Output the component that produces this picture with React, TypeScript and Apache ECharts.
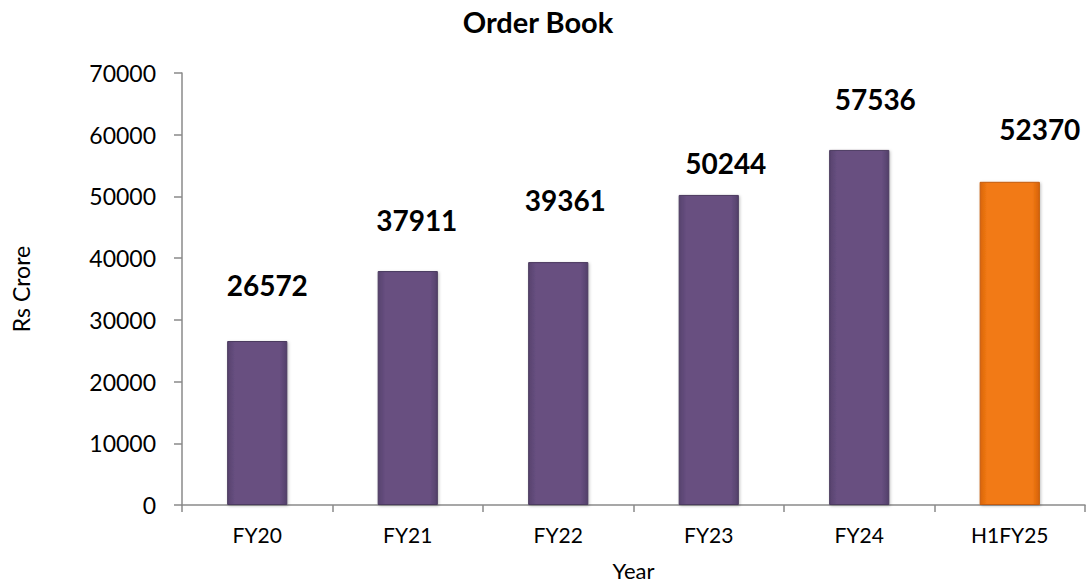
import React, { useEffect, useRef } from "react";
import * as echarts from "echarts";

const categories = ["FY20", "FY21", "FY22", "FY23", "FY24", "H1FY25"];
const orderBook = [26572, 37911, 39361, 50244, 57536, 52370];
const yTicks = [0, 10000, 20000, 30000, 40000, 50000, 60000, 70000];

const labelShift: [number, number][] = [
  [10, 56],
  [9, 51],
  [7, 62],
  [17, 32],
  [16, 51],
  [30, 53],
];

const purple = {
  type: "linear",
  x: 0, y: 0, x2: 1, y2: 0,
  colorStops: [
    { offset: 0, color: "#57426e" },
    { offset: 0.12, color: "#674f80" },
    { offset: 0.88, color: "#674f80" },
    { offset: 1, color: "#53406a" },
  ],
};
const orange = {
  type: "linear",
  x: 0, y: 0, x2: 1, y2: 0,
  colorStops: [
    { offset: 0, color: "#d9650a" },
    { offset: 0.12, color: "#f27a14" },
    { offset: 0.88, color: "#f27a14" },
    { offset: 1, color: "#d6620a" },
  ],
};

export default function App() {
  const ref = useRef<HTMLDivElement>(null);
  useEffect(() => {
    if (!ref.current) return;
    const chart = echarts.init(ref.current, undefined, { renderer: "svg" });
    const font = "Lato, 'Open Sans', sans-serif";
    chart.setOption({
      animation: false,
      backgroundColor: "#ffffff",
      title: {
        text: "Order Book",
        left: 533,
        top: 2,
        textAlign: "center",
        textStyle: { fontFamily: font, fontWeight: "bold", fontSize: 29, color: "#000" },
      },
      grid: { left: 182, top: 73, width: 903, height: 434, containLabel: false },
      xAxis: {
        type: "category",
        data: categories,
        name: "Year",
        nameLocation: "middle",
        nameGap: 54,
        nameTextStyle: { fontFamily: font, fontSize: 22, color: "#000" },
        axisLine: { lineStyle: { color: "#8a8a8a", width: 1.5 } },
        axisTick: { show: true, length: 7, alignWithLabel: false, lineStyle: { color: "#8a8a8a", width: 1.5 } },
        axisLabel: { fontFamily: font, fontSize: 21, color: "#000", margin: 19 },
      },
      yAxis: {
        type: "value",
        min: 0,
        max: 70000,
        interval: 10000,
        name: "Rs Crore",
        nameLocation: "middle",
        nameGap: 150,
        nameRotate: 90,
        nameTextStyle: { fontFamily: font, fontSize: 23, color: "#000" },
        axisLine: { show: true, lineStyle: { color: "#8a8a8a", width: 1.5 } },
        axisTick: { show: true, length: 8, lineStyle: { color: "#8a8a8a", width: 1.5 } },
        splitLine: { show: false },
        axisLabel: {
          fontFamily: font,
          fontSize: 23,
          color: "#000",
          margin: 26,
          formatter: (v: number) => (yTicks.includes(v) ? String(v) : ""),
        },
      },
      series: [
        {
          type: "bar",
          barWidth: "40%",
          data: orderBook.map((v, i) => ({
            value: v,
            itemStyle: {
              color: i === orderBook.length - 1 ? orange : purple,
              borderColor: i === orderBook.length - 1 ? "#c45a08" : "#4b3a5f",
              borderWidth: 1,
              shadowColor: "rgba(0,0,0,0.25)",
              shadowBlur: 3,
              shadowOffsetX: 1,
              shadowOffsetY: 1,
            },
            label: {
              show: true,
              position: "top",
              distance: 0,
              offset: [labelShift[i][0], -(labelShift[i][1] - 15)],
              lineHeight: 30,
              fontFamily: font,
              fontWeight: "bold",
              fontSize: 28,
              color: "#000",
            },
          })),
        },
      ],
    });
    return () => chart.dispose();
  }, []);
  return (
    <div
      ref={ref}
      style={{ position: "fixed", left: 0, top: 0, width: 1092, height: 586, background: "#fff" }}
    />
  );
}
